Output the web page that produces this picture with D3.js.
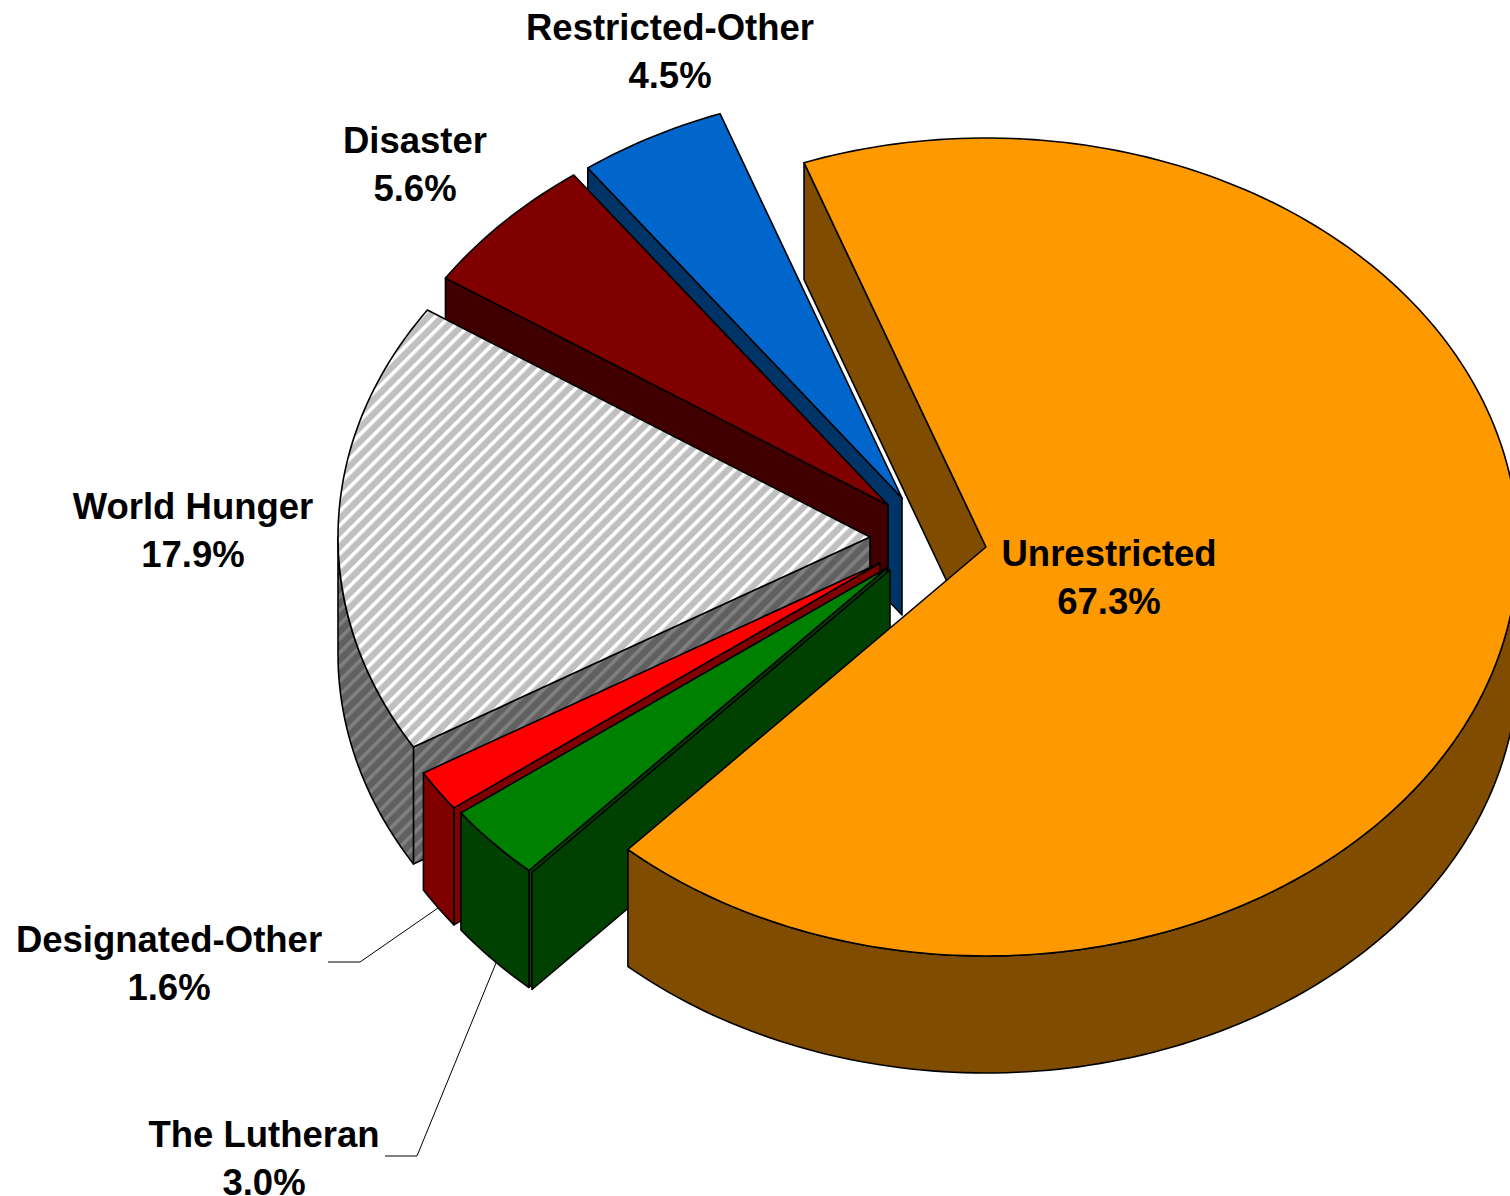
<!DOCTYPE html>
<html>
<head>
<meta charset="utf-8">
<script src="https://cdn.jsdelivr.net/npm/d3@7"></script>
<style>
  html, body { margin: 0; padding: 0; background: #fff; overflow: hidden; }
  text { font-family: "Liberation Sans", Arial, sans-serif; font-weight: bold; font-size: 36.5px; fill: #000; }
</style>
</head>
<body>
<div id="chart"></div>
<script>
// pie order, clockwise from the start of Unrestricted
var categories = ["Unrestricted", "", "The Lutheran", "Designated-Other", "World Hunger", "Disaster", "Restricted-Other"];
var values = [67.3, 0, 3.03, 1.64, 17.94, 5.58, 4.5];
var topColors = ["#FF9900", "#004000", "#008000", "#FF0000", "url(#hatchTop)", "#800000", "#0066CC"];
var sideColors = ["#804D00", "#004000", "#004000", "#800000", "url(#hatchSide)", "#400000", "#003366"];

var width = 1510, height = 1196;
var rx = 532, ry = 409, depth = 117;
var startAngle = -20 * Math.PI / 180;

// where each exploded slice has its point
var apexes = [[986, 547], [890, 570], [887, 568], [880, 563], [870, 537], [888, 505], [902, 498]];
var labelSpots = [[1109, 566], null, [264, 1147], [169, 952], [193, 519], [415, 153], [670, 40]];

var svg = d3.select("#chart").append("svg")
  .attr("width", width)
  .attr("height", height);

var defs = svg.append("defs");
function hatch(id, base, stripe) {
  var p = defs.append("pattern")
    .attr("id", id)
    .attr("patternUnits", "userSpaceOnUse")
    .attr("width", 10)
    .attr("height", 10)
    .attr("patternTransform", "rotate(45)");
  p.append("rect").attr("width", 10).attr("height", 10).attr("fill", base);
  p.append("rect").attr("width", 3.6).attr("height", 10).attr("fill", stripe);
}
hatch("hatchTop", "#C0C0C0", "#FFFFFF");
hatch("hatchSide", "#606060", "#808080");

var pie = d3.pie().sort(null).value(function(d) { return d; }).startAngle(startAngle).endAngle(startAngle + 2 * Math.PI);
var arcs = pie(values);

// squashed circle, same angle convention as d3.pie
var rimX = d3.scaleLinear().domain([-1, 1]).range([-rx, rx]);
var rimY = d3.scaleLinear().domain([-1, 1]).range([-ry, ry]);

function rimPoints(apex, a0, a1, drop) {
  var n = Math.max(2, Math.ceil(Math.abs(a1 - a0) / 0.02));
  return d3.range(n + 1).map(function(i) {
    var a = a0 + (a1 - a0) * i / n;
    return [apex[0] + rimX(Math.sin(a)), apex[1] + rimY(-Math.cos(a)) + drop];
  });
}
var line = d3.line();

function wallPath(apex, a) {
  var p = rimPoints(apex, a, a, 0)[0];
  return line([apex, p, [p[0], p[1] + depth], [apex[0], apex[1] + depth]]) + "Z";
}

// painter's order: back slices first, Unrestricted last
var order = [6, 5, 4, 3, 2, 1, 0];
order.forEach(function(i) {
  var d = arcs[i], apex = apexes[i];
  var g = svg.append("g").attr("stroke", "#000").attr("stroke-width", 1.6).attr("stroke-linejoin", "round");

  if (Math.sin(d.startAngle) < 0) {
    g.append("path").attr("d", wallPath(apex, d.startAngle)).attr("fill", sideColors[i]);
  }
  if (Math.sin(d.endAngle) > 0) {
    g.append("path").attr("d", wallPath(apex, d.endAngle)).attr("fill", sideColors[i]);
  }

  // outer rim, only the part on the lower half
  var lo = Math.max(d.startAngle, Math.PI / 2), hi = Math.min(d.endAngle, 3 * Math.PI / 2);
  if (hi > lo) {
    var upper = rimPoints(apex, lo, hi, 0);
    var lower = rimPoints(apex, hi, lo, depth);
    g.append("path").attr("d", line(upper.concat(lower)) + "Z").attr("fill", sideColors[i]);
  }

  if (d.endAngle > d.startAngle) {
    g.append("path")
      .attr("d", line([apex].concat(rimPoints(apex, d.startAngle, d.endAngle, 0))) + "Z")
      .attr("fill", topColors[i]);
  }
});

// leader lines
var leaders = [
  [[328, 962], [360, 962], [438, 908]],
  [[385, 1156], [417, 1156], [496, 963]]
];
svg.selectAll(".leader").data(leaders).enter().append("path")
  .attr("class", "leader")
  .attr("d", line)
  .attr("fill", "none")
  .attr("stroke", "#000")
  .attr("stroke-width", 1);

var fmt = d3.format(".1f");
categories.forEach(function(c, i) {
  if (!c) return;
  var t = svg.append("text").attr("text-anchor", "middle").attr("x", labelSpots[i][0]).attr("y", labelSpots[i][1]);
  t.append("tspan").attr("x", labelSpots[i][0]).text(c);
  t.append("tspan").attr("x", labelSpots[i][0]).attr("dy", 47.5).text(fmt(values[i]) + "%");
});
</script>
</body>
</html>
